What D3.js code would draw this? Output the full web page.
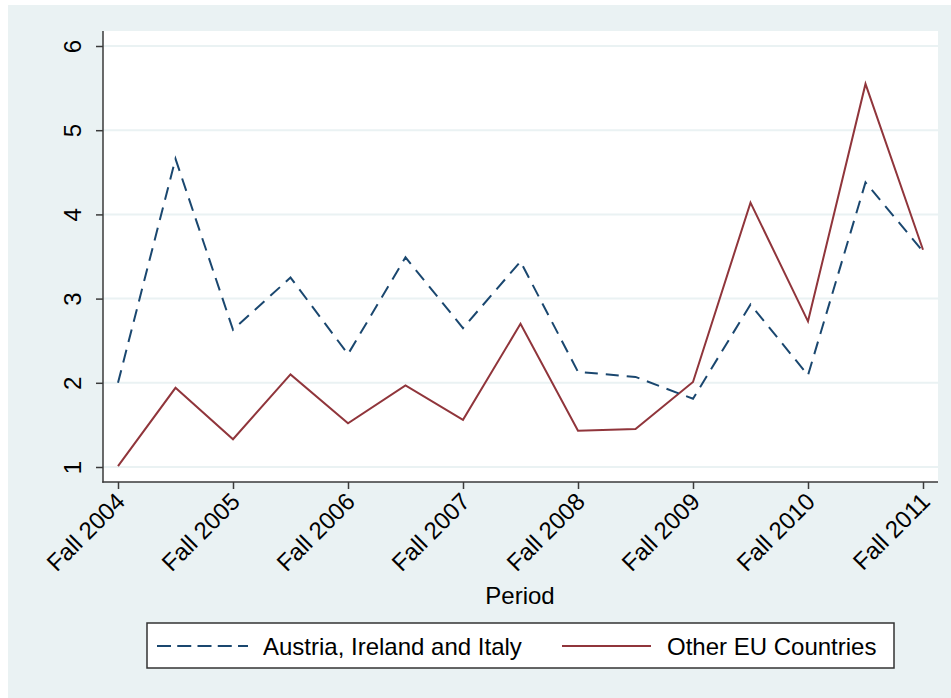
<!DOCTYPE html>
<html>
<head>
<meta charset="utf-8">
<script src="https://cdn.jsdelivr.net/npm/d3@7"></script>
<style>
  html, body { margin: 0; padding: 0; background: #ffffff; }
  svg { display: block; }
  text { font-family: "Liberation Sans", Arial, sans-serif; fill: #000; }
</style>
</head>
<body>
<svg id="chart" width="951" height="698"></svg>
<script>
// ---- data ----
const periods = ["Fall 2004","Spring 2005","Fall 2005","Spring 2006","Fall 2006","Spring 2007","Fall 2007","Spring 2008","Fall 2008","Spring 2009","Fall 2009","Spring 2010","Fall 2010","Spring 2011","Fall 2011"];
const xTickLabels = ["Fall 2004","Fall 2005","Fall 2006","Fall 2007","Fall 2008","Fall 2009","Fall 2010","Fall 2011"];
const yTicks = [1, 2, 3, 4, 5, 6];
const austriaIrelandItaly = [2.00, 4.66, 2.63, 3.25, 2.34, 3.49, 2.65, 3.44, 2.13, 2.07, 1.81, 2.93, 2.09, 4.38, 3.56];
const otherEU = [1.01, 1.94, 1.33, 2.10, 1.52, 1.97, 1.56, 2.70, 1.43, 1.45, 2.01, 4.14, 2.73, 5.55, 3.58];
const seriesNames = ["Austria, Ireland and Italy", "Other EU Countries"];

// ---- layout ----
const svg = d3.select("#chart");
const bg = "#EAF2F3";
const navy = "#1A476F";
const maroon = "#90353B";
const plot = {left: 103, right: 938, top: 31, bottom: 482};
const fs = 24;

svg.append("rect").attr("x", 8).attr("y", 5).attr("width", 943).attr("height", 693).attr("fill", bg);
svg.append("rect").attr("x", plot.left).attr("y", plot.top)
  .attr("width", plot.right - plot.left).attr("height", plot.bottom - plot.top).attr("fill", "#fff");

const x = d3.scalePoint().domain(periods).range([118, 923]);
const y = d3.scaleLinear().domain([1, 6]).range([467, 46]);

// gridlines
svg.append("g").selectAll("line").data(yTicks).join("line")
  .attr("x1", plot.left).attr("x2", plot.right)
  .attr("y1", d => y(d)).attr("y2", d => y(d))
  .attr("stroke", bg).attr("stroke-width", 2);

// y axis
const yAxis = svg.append("g").attr("transform", `translate(${plot.left},0)`)
  .call(d3.axisLeft(y).tickValues(yTicks).tickSize(7).tickPadding(0).tickFormat(d3.format("d")));
yAxis.select(".domain").remove();
yAxis.selectAll(".tick line").attr("stroke", "#3a3a3a").attr("stroke-width", 1.5);
yAxis.selectAll(".tick text")
  .attr("font-size", fs).attr("fill", "#000")
  .attr("text-anchor", "middle")
  .attr("x", 0).attr("dy", 0)
  .attr("transform", "translate(-22,0) rotate(-90)");
svg.append("line").attr("x1", plot.left).attr("x2", plot.left)
  .attr("y1", plot.top).attr("y2", plot.bottom + 0.75)
  .attr("stroke", "#3a3a3a").attr("stroke-width", 1.5);

// x axis
const xAxis = svg.append("g").attr("transform", `translate(0,${plot.bottom})`)
  .call(d3.axisBottom(x).tickValues(xTickLabels).tickSize(7).tickPadding(0));
xAxis.select(".domain").remove();
xAxis.selectAll(".tick line").attr("stroke", "#3a3a3a").attr("stroke-width", 1.5);
xAxis.selectAll(".tick text")
  .attr("font-size", fs).attr("fill", "#000")
  .attr("text-anchor", "end")
  .attr("y", 0).attr("dy", 0)
  .attr("transform", "translate(8,21) rotate(-45)");
svg.append("line").attr("x1", plot.left - 0.75).attr("x2", plot.right)
  .attr("y1", plot.bottom).attr("y2", plot.bottom)
  .attr("stroke", "#3a3a3a").attr("stroke-width", 1.5);

// lines
const line = d3.line().x((d, i) => x(periods[i])).y(d => y(d));
svg.append("path").datum(otherEU).attr("d", line)
  .attr("fill", "none").attr("stroke", maroon).attr("stroke-width", 2);
svg.append("path").datum(austriaIrelandItaly).attr("d", line)
  .attr("fill", "none").attr("stroke", navy).attr("stroke-width", 2)
  .attr("stroke-dasharray", "13,8");

// axis title
svg.append("text").attr("x", 520).attr("y", 604).attr("text-anchor", "middle")
  .attr("font-size", fs).text("Period");

// legend
const leg = svg.append("g");
leg.append("rect").attr("x", 147).attr("y", 623).attr("width", 747).attr("height", 45)
  .attr("fill", "#fff").attr("stroke", "#333").attr("stroke-width", 1.5);
leg.append("line").attr("x1", 157).attr("x2", 248).attr("y1", 646).attr("y2", 646)
  .attr("stroke", navy).attr("stroke-width", 2).attr("stroke-dasharray", "14,6.25");
leg.append("text").attr("x", 263).attr("y", 655).attr("font-size", fs).text(seriesNames[0]);
leg.append("line").attr("x1", 562).attr("x2", 651).attr("y1", 646).attr("y2", 646)
  .attr("stroke", maroon).attr("stroke-width", 2);
leg.append("text").attr("x", 667).attr("y", 655).attr("font-size", fs).text(seriesNames[1]);
</script>
</body>
</html>
